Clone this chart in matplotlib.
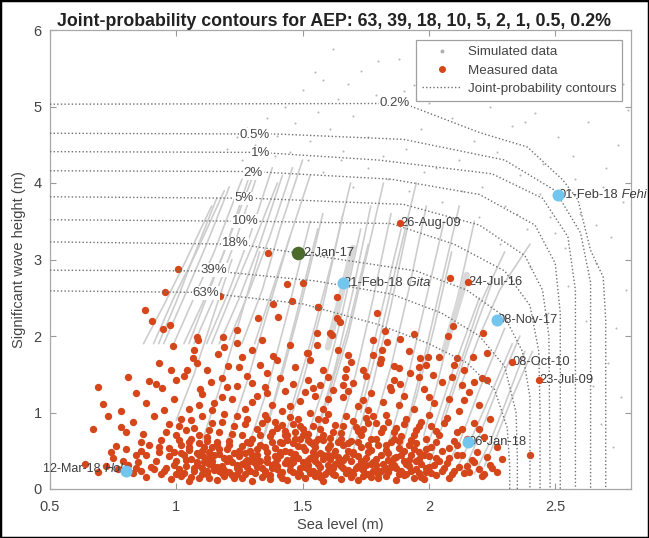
import matplotlib
matplotlib.use("Agg")
import matplotlib.pyplot as plt
from matplotlib.lines import Line2D
from matplotlib.patches import Rectangle

plt.rcParams['font.family'] = ['Liberation Sans', 'DejaVu Sans']

# ---------------- data ----------------
title = "Joint-probability contours for AEP: 63, 39, 18, 10, 5, 2, 1, 0.5, 0.2%"
xticks = [0.5, 1, 1.5, 2, 2.5]
xtick_labels = ["0.5", "1", "1.5", "2", "2.5"]
yticks = [0, 1, 2, 3, 4, 5, 6]

aep_labels = ["63%", "39%", "18%", "10%", "5%", "2%", "1%", "0.5%", "0.2%"]
aep_label_x = [1.118, 1.150, 1.233, 1.272, 1.268, 1.304, 1.332, 1.310, 1.865]
aep_label_y = [2.56, 2.86, 3.21, 3.50, 3.80, 4.13, 4.39, 4.63, 5.04]

contour_x = [
    [0.5, 1.1, 1.5, 1.8, 2.0, 2.15, 2.26, 2.31, 2.32, 2.32],
    [0.5, 1.15, 1.55, 1.85, 2.05, 2.2, 2.3, 2.345, 2.35, 2.35],
    [0.5, 1.25, 1.65, 1.95, 2.15, 2.3, 2.37, 2.40, 2.40],
    [0.5, 1.3, 1.85, 2.1, 2.3, 2.4, 2.435, 2.44, 2.44],
    [0.5, 1.3, 1.9, 2.2, 2.38, 2.45, 2.475, 2.48],
    [0.5, 1.3, 1.85, 2.2, 2.42, 2.50, 2.52, 2.52],
    [0.5, 1.33, 1.8, 2.25, 2.45, 2.55, 2.58, 2.58],
    [0.5, 1.4, 1.9, 2.3, 2.5, 2.6, 2.64, 2.64],
    [0.5, 1.9, 2.2, 2.39, 2.53, 2.59, 2.64, 2.69, 2.70, 2.70],
]
contour_y = [
    [2.59, 2.57, 2.42, 2.15, 1.9, 1.65, 1.3, 0.8, 0.3, 0.0],
    [2.86, 2.85, 2.72, 2.55, 2.3, 2.0, 1.6, 1.0, 0.4, 0.0],
    [3.23, 3.20, 3.00, 2.85, 2.6, 2.25, 1.8, 1.2, 0.0],
    [3.52, 3.50, 3.47, 3.2, 2.85, 2.4, 1.8, 1.0, 0.0],
    [3.82, 3.80, 3.72, 3.45, 3.05, 2.6, 2.0, 0.0],
    [4.16, 4.15, 4.05, 3.85, 3.45, 2.95, 2.3, 0.0],
    [4.41, 4.40, 4.30, 4.12, 3.8, 3.3, 2.6, 0.0],
    [4.65, 4.64, 4.57, 4.30, 3.9, 3.35, 2.7, 0.0],
    [5.03, 5.04, 4.66, 4.47, 4.04, 3.78, 3.12, 2.77, 2.2, 0.0],
]

# simulated-data streaks (each: x list, y list)
streak_x = [
    [0.87, 0.95, 1.04, 1.14], [0.91, 0.99, 1.08, 1.19], [0.95, 1.03, 1.12, 1.21],
    [0.99, 1.07, 1.15, 1.26], [1.03, 1.10, 1.19, 1.29], [1.07, 1.15, 1.24, 1.33],
    [1.12, 1.21, 1.29, 1.38], [1.17, 1.25, 1.33, 1.42], [1.21, 1.29, 1.37, 1.46],
    [1.26, 1.34, 1.41, 1.50], [1.31, 1.38, 1.46, 1.53], [0.93, 1.00, 1.07, 1.16],
    [1.05, 1.12, 1.20, 1.31], [1.14, 1.22, 1.31, 1.40],
    [1.20, 1.28, 1.36, 1.45], [1.28, 1.36, 1.44, 1.53], [1.35, 1.42, 1.50, 1.58],
    [1.42, 1.50, 1.58, 1.66], [1.50, 1.58, 1.65, 1.73], [1.56, 1.63, 1.70, 1.77],
    [1.63, 1.71, 1.78, 1.85], [1.70, 1.78, 1.85, 1.92], [1.77, 1.85, 1.92, 1.99],
    [1.84, 1.92, 1.99, 2.06], [1.91, 1.98, 2.05, 2.12], [1.98, 2.05, 2.12, 2.18],
    [1.10, 1.17, 1.25, 1.33], [1.00, 1.07, 1.14, 1.22], [1.45, 1.53, 1.61, 1.69],
    [1.60, 1.68, 1.75, 1.82], [1.73, 1.80, 1.87, 1.95], [1.32, 1.39, 1.47, 1.56],
    [1.53, 1.60, 1.68, 1.76], [1.67, 1.74, 1.81, 1.89], [1.88, 1.95, 2.02, 2.09],
    [2.05, 2.12, 2.20, 2.30], [2.10, 2.16, 2.24, 2.33], [2.14, 2.20, 2.27, 2.36],
    [2.18, 2.24, 2.30, 2.38], [2.22, 2.27, 2.33, 2.41], [2.00, 2.06, 2.15, 2.25],
    [2.05, 2.12, 2.20, 2.30], [2.12, 2.20, 2.28, 2.40], [1.95, 2.02, 2.10, 2.20],
]
streak_y = [
    [1.9, 2.4, 3.0, 3.7], [1.9, 2.5, 3.1, 3.9], [1.9, 2.5, 3.2, 3.95],
    [1.9, 2.5, 3.1, 4.05], [1.9, 2.4, 3.1, 4.1], [1.9, 2.5, 3.3, 4.2],
    [1.9, 2.6, 3.3, 4.2], [1.9, 2.5, 3.2, 4.1], [1.95, 2.6, 3.3, 4.2],
    [1.9, 2.6, 3.4, 4.3], [1.9, 2.6, 3.4, 4.1], [1.9, 2.45, 3.05, 3.8],
    [1.9, 2.5, 3.2, 4.15], [1.9, 2.55, 3.25, 4.0],
    [0.6, 1.4, 2.3, 3.3], [0.5, 1.3, 2.3, 3.5], [0.7, 1.5, 2.5, 3.6],
    [0.6, 1.4, 2.4, 3.6], [0.5, 1.3, 2.2, 3.4], [0.8, 1.6, 2.6, 3.7],
    [0.6, 1.5, 2.5, 3.6], [0.5, 1.4, 2.4, 3.5], [0.7, 1.6, 2.6, 3.7],
    [0.6, 1.5, 2.5, 3.5], [0.8, 1.7, 2.7, 3.7], [0.7, 1.6, 2.6, 3.5],
    [0.6, 1.3, 2.2, 3.1], [0.9, 1.5, 2.2, 3.0], [1.0, 1.9, 2.9, 4.0],
    [1.1, 2.0, 3.0, 4.0], [1.0, 1.9, 2.9, 4.0], [0.4, 1.2, 2.2, 3.4],
    [0.4, 1.2, 2.1, 3.2], [0.5, 1.3, 2.3, 3.4], [0.4, 1.2, 2.1, 3.1],
    [0.2, 0.6, 1.3, 2.1], [0.2, 0.6, 1.2, 1.9], [0.25, 0.7, 1.3, 2.0],
    [0.2, 0.6, 1.1, 1.8], [0.3, 0.7, 1.2, 1.8], [0.3, 0.9, 1.8, 2.7],
    [0.9, 1.6, 2.4, 3.1], [1.3, 2.0, 2.6, 3.2], [0.2, 0.8, 1.6, 2.5],
]
band_x = [[1.60, 1.70], [2.06, 2.15]]
band_y = [[1.85, 3.15], [1.80, 2.80]]

sim_dots = [
    (1.20, 4.45), (1.24, 4.60), (1.28, 4.72), (1.31, 4.50), (1.36, 4.85), (1.40, 4.62), (1.43, 5.00),
    (1.47, 4.78), (1.50, 5.22), (1.53, 4.55), (1.56, 4.93), (1.58, 5.35), (1.61, 4.70), (1.64, 5.10),
    (1.66, 4.42), (1.70, 4.88), (1.73, 5.46), (1.76, 4.60), (1.79, 5.15), (1.82, 4.35), (1.85, 4.98),
    (1.88, 5.62), (1.91, 4.45), (1.94, 5.28), (1.97, 4.70), (2.00, 5.05), (2.03, 4.20), (2.06, 5.48),
    (2.09, 4.85), (2.12, 4.30), (2.15, 5.20), (2.18, 4.55), (2.21, 3.95), (2.24, 5.00), (2.27, 4.40),
    (2.30, 3.70), (2.33, 4.75), (2.36, 4.10), (2.39, 3.40), (2.42, 4.92), (2.45, 4.25), (2.48, 3.55),
    (2.51, 4.60), (2.54, 3.15), (2.57, 4.35), (2.60, 3.60), (2.63, 4.80), (2.66, 2.95), (2.69, 3.95),
    (2.72, 3.30), (2.75, 4.50), (2.78, 2.60), (2.74, 2.10), (2.71, 1.65), (2.76, 1.20), (2.68, 0.85),
    (2.73, 0.55), (2.77, 3.75), (2.62, 2.20), (2.58, 1.70), (2.55, 2.65), (2.65, 1.35), (2.70, 4.20),
    (2.60, 5.10), (2.52, 5.30), (2.44, 5.55), (2.35, 5.25), (2.26, 5.70), (2.17, 5.40), (2.10, 5.85),
    (1.98, 5.50), (1.90, 5.20), (1.80, 5.60), (1.68, 5.30), (1.62, 5.75), (1.55, 5.45), (2.40, 2.90),
    (2.47, 2.30), (2.35, 3.60), (2.28, 3.20), (2.20, 3.55), (2.13, 3.90), (2.05, 3.75), (1.98, 4.15),
    (1.92, 3.90), (1.84, 4.05), (1.76, 4.20), (1.70, 3.95), (1.65, 4.30), (1.58, 4.15), (2.50, 3.35),
    (2.44, 3.85), (2.58, 4.05), (2.66, 3.45), (2.79, 4.95), (2.77, 5.30), (2.69, 5.50), (2.57, 5.75),
    (2.46, 5.10), (2.38, 4.80), (1.26, 4.30), (1.33, 4.22), (1.39, 4.35), (1.45, 4.40), (1.52, 4.30),
]

meas_upper = [
    (1.007, 2.88), (0.955, 2.58), (0.876, 2.34), (0.904, 2.20), (0.948, 2.09), (0.975, 2.14), (0.987, 1.87),
    (1.173, 2.52), (1.363, 3.09), (1.44, 2.68), (1.50, 2.69), (1.383, 2.42), (1.458, 2.46), (1.561, 2.38),
    (1.324, 2.24), (1.403, 2.25), (1.637, 2.51), (1.637, 2.24), (1.557, 2.04), (1.609, 2.04), (1.082, 1.99),
    (1.086, 1.95), (1.185, 1.99), (1.241, 2.08), (1.241, 1.91), (2.084, 2.76), (1.795, 2.30), (1.827, 2.07),
    (1.78, 1.95), (1.886, 1.96), (1.835, 1.92), (1.94, 2.03), (2.096, 2.13), (2.076, 2.00), (2.215, 2.04),
    (1.815, 1.82), (1.68, 1.75), (1.78, 1.75), (1.965, 1.71), (1.997, 1.73), (2.11, 1.71), (2.175, 1.73),
    (2.23, 1.78), (1.807, 1.65), (1.96, 1.60), (1.86, 1.61), (1.74, 1.56), (1.926, 1.52), (2.017, 1.49),
    (2.09, 1.46), (2.13, 1.36), (2.21, 1.45), (1.668, 1.46), (1.66, 1.36), (1.847, 1.33), (1.886, 1.37),
    (1.56, 2.38), (1.649, 2.18), (1.617, 2.01), (1.52, 1.78), (2.23, 1.42),
]
meas_mid = [
    (0.93, 1.65), (0.81, 1.46), (0.69, 1.33), (0.71, 1.11), (0.92, 1.37), (0.944, 1.32), (1.066, 1.71),
    (1.043, 1.56), (1.03, 1.48), (1.205, 1.61), (1.25, 1.60), (1.138, 1.40), (1.18, 1.45), (1.094, 1.31),
    (1.20, 1.33), (1.30, 1.38), (1.33, 1.62), (1.165, 1.76), (1.30, 1.82), (1.45, 1.88), (1.383, 1.74),
    (1.518, 1.78), (1.557, 1.88), (1.36, 1.52), (1.41, 1.45), (1.47, 1.60), (1.52, 1.43), (1.58, 1.55),
    (1.62, 1.30), (1.55, 1.22), (1.49, 1.15), (1.43, 1.28), (1.38, 1.10), (1.32, 1.21), (1.27, 1.05),
    (1.22, 1.17), (1.15, 1.12), (1.10, 1.24), (1.05, 1.05), (0.99, 1.18), (0.95, 1.03), (0.88, 1.12),
    (0.84, 1.25), (0.78, 1.02), (1.00, 1.42), (1.12, 1.55), (1.28, 1.48), (1.35, 1.33), (1.46, 1.37),
    (1.53, 1.68), (1.60, 1.46), (1.66, 1.20), (1.70, 1.38), (1.72, 1.08), (1.77, 1.25), (1.82, 1.14),
    (1.86, 1.43), (1.90, 1.22), (1.94, 1.05), (1.98, 1.31), (2.02, 1.12), (2.05, 1.40), (2.08, 1.18),
    (2.12, 1.02), (2.16, 1.27), (2.20, 1.10), (1.75, 1.48), (1.88, 1.58), (1.69, 1.66), (1.99, 1.62),
    (2.14, 1.55), (1.58, 1.05), (1.42, 1.02), (1.24, 1.35), (1.08, 1.65), (1.19, 1.85), (1.34, 1.95),
    (1.40, 1.68), (1.64, 1.82), (1.92, 1.80), (2.04, 1.72), (1.81, 1.70), (1.07, 1.82), (0.98, 1.55),
    (1.57, 1.36), (1.67, 1.57), (1.85, 1.30), (2.10, 1.62), (1.51, 1.27), (1.14, 1.03), (0.89, 1.41),
    (1.76, 1.03), (1.96, 1.47), (2.18, 1.40), (1.26, 1.72),
    (1.09, 1.10), (1.18, 1.20), (1.30, 1.14), (1.45, 1.08), (1.60, 1.18), (1.74, 1.16), (1.88, 1.10),
    (2.00, 1.20), (2.14, 1.16), (1.36, 1.25), (1.54, 1.32), (1.68, 1.28),
]
meas_low = [
    (0.67, 0.78), (0.78, 0.81), (0.80, 0.75), (0.83, 0.88), (0.87, 0.72), (0.91, 0.96), (0.94, 0.64),
    (0.97, 0.85), (1.00, 0.70), (1.02, 0.92), (1.05, 0.62), (1.07, 0.80), (1.10, 0.95), (1.12, 0.68),
    (1.14, 0.86), (1.17, 0.74), (1.19, 0.98), (1.21, 0.63), (1.23, 0.83), (1.26, 0.71), (1.28, 0.92),
    (1.30, 0.65), (1.32, 0.79), (1.35, 0.97), (1.37, 0.69), (1.39, 0.87), (1.41, 0.62), (1.43, 0.76),
    (1.45, 0.94), (1.47, 0.66), (1.49, 0.83), (1.51, 0.72), (1.53, 0.99), (1.55, 0.61), (1.57, 0.78),
    (1.59, 0.90), (1.61, 0.67), (1.63, 0.84), (1.65, 0.73), (1.67, 0.96), (1.69, 0.63), (1.71, 0.81),
    (1.73, 0.70), (1.75, 0.93), (1.77, 0.65), (1.79, 0.86), (1.81, 0.74), (1.83, 0.97), (1.85, 0.62),
    (1.87, 0.80), (1.89, 0.69), (1.91, 0.91), (1.93, 0.64), (1.95, 0.77), (1.97, 0.88), (1.99, 0.66),
    (2.01, 0.82), (2.04, 0.71), (2.07, 0.93), (2.10, 0.63), (2.13, 0.79), (2.18, 0.86), (2.22, 0.68),
    (0.73, 0.95), (0.86, 0.62), (1.04, 0.77), (1.16, 0.61), (1.24, 0.96), (1.34, 0.86), (1.44, 0.70),
    (1.54, 0.82), (1.64, 0.62), (1.74, 0.78), (1.84, 0.88), (1.94, 0.71), (2.00, 0.97), (1.60, 0.98),
    (1.38, 0.75), (1.18, 0.88), (0.96, 0.74), (1.48, 0.91), (1.70, 0.89), (1.88, 0.63), (1.52, 0.64),
    (1.29, 0.60), (1.09, 0.71), (1.78, 0.96), (2.15, 0.66), (1.42, 0.84), (1.62, 0.75),
    (1.01, 0.83), (1.06, 0.90), (1.13, 0.77), (1.22, 0.72), (1.27, 0.85), (1.33, 0.70), (1.36, 0.92),
    (1.40, 0.80), (1.46, 0.85), (1.50, 0.78), (1.56, 0.92), (1.58, 0.70), (1.66, 0.82), (1.72, 0.76),
    (1.76, 0.86), (1.82, 0.80), (1.86, 0.74), (1.90, 0.85), (1.96, 0.82), (2.03, 0.76), (2.06, 0.86),
    (2.11, 0.74), (2.20, 0.78), (2.24, 0.92),
]
meas_base = [
    (0.83, 0.21), (0.88, 0.16), (0.94, 0.19), (0.98, 0.13), (1.02, 0.17), (1.05, 0.11), (1.09, 0.15),
    (1.12, 0.20), (1.16, 0.12), (1.19, 0.17), (1.23, 0.14), (1.27, 0.19), (1.30, 0.11), (1.34, 0.16),
    (1.37, 0.13), (1.41, 0.18), (1.44, 0.12), (1.48, 0.21), (1.51, 0.14), (1.55, 0.17), (1.58, 0.11),
    (1.62, 0.19), (1.65, 0.13), (1.69, 0.16), (1.72, 0.12), (1.76, 0.20), (1.80, 0.14), (1.83, 0.17),
    (1.87, 0.12), (1.91, 0.19), (1.94, 0.15), (1.98, 0.13), (2.03, 0.18), (2.08, 0.15), (2.14, 0.21),
    (2.21, 0.17), (2.27, 0.22),
    (0.64, 0.33), (0.72, 0.30), (0.77, 0.26), (0.81, 0.31), (0.86, 0.24), (0.90, 0.29), (0.95, 0.23),
    (0.99, 0.32), (1.01, 0.26), (1.04, 0.30), (1.07, 0.23), (1.10, 0.28), (1.13, 0.33), (1.15, 0.25),
    (1.18, 0.30), (1.21, 0.22), (1.24, 0.27), (1.26, 0.33), (1.29, 0.24), (1.32, 0.29), (1.35, 0.23),
    (1.38, 0.31), (1.40, 0.26), (1.43, 0.34), (1.46, 0.22), (1.49, 0.28), (1.52, 0.32), (1.54, 0.24),
    (1.57, 0.29), (1.60, 0.23), (1.63, 0.33), (1.66, 0.27), (1.69, 0.22), (1.72, 0.30), (1.74, 0.25),
    (1.77, 0.33), (1.80, 0.23), (1.83, 0.28), (1.86, 0.32), (1.89, 0.24), (1.92, 0.30), (1.95, 0.26),
    (1.99, 0.22), (2.02, 0.31), (2.06, 0.27), (2.10, 0.24), (2.15, 0.30), (2.20, 0.26), (2.24, 0.32),
    (1.12, 0.24), (1.31, 0.34), (1.56, 0.21), (1.79, 0.31), (1.97, 0.33),
    (0.75, 0.40), (0.84, 0.44), (0.92, 0.37), (0.97, 0.43), (1.00, 0.36), (1.03, 0.45), (1.06, 0.39),
    (1.08, 0.35), (1.11, 0.42), (1.14, 0.37), (1.17, 0.46), (1.19, 0.40), (1.22, 0.35), (1.25, 0.43),
    (1.28, 0.38), (1.30, 0.45), (1.33, 0.36), (1.36, 0.41), (1.39, 0.34), (1.41, 0.44), (1.44, 0.38),
    (1.47, 0.46), (1.50, 0.35), (1.53, 0.41), (1.55, 0.37), (1.58, 0.44), (1.61, 0.39), (1.64, 0.35),
    (1.67, 0.42), (1.70, 0.46), (1.73, 0.37), (1.75, 0.41), (1.78, 0.35), (1.81, 0.44), (1.84, 0.38),
    (1.87, 0.42), (1.90, 0.36), (1.93, 0.45), (1.96, 0.39), (2.00, 0.43), (2.04, 0.36), (2.08, 0.41),
    (2.13, 0.45), (2.17, 0.38), (2.23, 0.42), (2.29, 0.39), (1.09, 0.45), (1.27, 0.35), (1.46, 0.40),
    (1.62, 0.45), (1.85, 0.35),
    (0.76, 0.56), (0.86, 0.50), (0.93, 0.55), (0.99, 0.48), (1.02, 0.58), (1.05, 0.51), (1.08, 0.47),
    (1.11, 0.55), (1.13, 0.49), (1.16, 0.59), (1.20, 0.52), (1.23, 0.47), (1.26, 0.56), (1.29, 0.50),
    (1.33, 0.58), (1.36, 0.48), (1.39, 0.54), (1.42, 0.60), (1.45, 0.49), (1.48, 0.56), (1.51, 0.51),
    (1.54, 0.59), (1.57, 0.47), (1.60, 0.54), (1.63, 0.50), (1.66, 0.57), (1.70, 0.48), (1.73, 0.55),
    (1.77, 0.51), (1.80, 0.58), (1.84, 0.47), (1.88, 0.53), (1.92, 0.57), (1.96, 0.49), (2.01, 0.55),
    (2.05, 0.50), (2.11, 0.57), (2.19, 0.49), (2.27, 0.55), (2.40, 0.44), (1.44, 0.64), (1.50, 0.70),
    (1.56, 0.66), (1.47, 0.75), (1.53, 0.62), (1.06, 0.66), (1.12, 0.63), (1.01, 0.64),
    (1.03, 0.21), (1.07, 0.27), (1.10, 0.19), (1.14, 0.31), (1.17, 0.23), (1.20, 0.36), (1.24, 0.20),
    (1.28, 0.29), (1.31, 0.41), (1.35, 0.19), (1.38, 0.27), (1.42, 0.22), (1.45, 0.31), (1.48, 0.17),
    (1.52, 0.26), (1.55, 0.43), (1.59, 0.20), (1.62, 0.28), (1.66, 0.38), (1.70, 0.19), (1.73, 0.27),
    (1.77, 0.16), (1.81, 0.24), (1.85, 0.29), (1.88, 0.20), (1.92, 0.38), (1.96, 0.21), (1.99, 0.27),
    (1.13, 0.40), (1.40, 0.39), (1.68, 0.25), (1.25, 0.25), (1.52, 0.38), (1.18, 0.21), (1.60, 0.31),
    (0.96, 0.28), (1.00, 0.20), (1.04, 0.38), (1.06, 0.16), (1.08, 0.31), (1.11, 0.35), (1.13, 0.15),
    (1.15, 0.44), (1.16, 0.29), (1.19, 0.25), (1.21, 0.40), (1.22, 0.18), (1.24, 0.32), (1.26, 0.15),
    (1.27, 0.47), (1.29, 0.36), (1.31, 0.21), (1.32, 0.52), (1.34, 0.27), (1.36, 0.35), (1.37, 0.18),
    (1.39, 0.43), (1.40, 0.30), (1.42, 0.14), (1.43, 0.50), (1.45, 0.25), (1.46, 0.35), (1.48, 0.41),
    (1.49, 0.19), (1.50, 0.55), (1.51, 0.29), (1.53, 0.21), (1.54, 0.48), (1.56, 0.33), (1.57, 0.16),
    (1.58, 0.39), (1.60, 0.45), (1.61, 0.25), (1.63, 0.18), (1.64, 0.42), (1.65, 0.30), (1.67, 0.21),
    (1.68, 0.50), (1.69, 0.36), (1.71, 0.27), (1.72, 0.43), (1.74, 0.17), (1.75, 0.32), (1.76, 0.48),
    (1.78, 0.24), (1.79, 0.39), (1.80, 0.19), (1.82, 0.33), (1.83, 0.51), (1.84, 0.22), (1.86, 0.40),
    (1.87, 0.27), (1.89, 0.45), (1.90, 0.18), (1.91, 0.33), (1.93, 0.24), (1.94, 0.52), (1.95, 0.37),
    (1.97, 0.16), (1.98, 0.44), (2.00, 0.29), (2.01, 0.21), (2.03, 0.40), (2.05, 0.23), (2.07, 0.34),
    (2.09, 0.19), (2.11, 0.45), (2.12, 0.29), (2.16, 0.22), (2.18, 0.35), (2.22, 0.20), (2.25, 0.28),
    (1.02, 0.47), (1.05, 0.55), (1.09, 0.60), (1.10, 0.50), (1.14, 0.55), (1.17, 0.52), (1.21, 0.58),
    (1.25, 0.50), (1.28, 0.62), (1.32, 0.45), (1.35, 0.55), (1.38, 0.62), (1.41, 0.48), (1.43, 0.70),
    (1.46, 0.60), (1.49, 0.66), (1.52, 0.72), (1.55, 0.55), (1.58, 0.64), (1.61, 0.58), (1.65, 0.66),
    (1.68, 0.60), (1.72, 0.62), (1.76, 0.57), (1.79, 0.66), (1.83, 0.58), (1.86, 0.66), (1.90, 0.50),
    (1.95, 0.60), (1.99, 0.52), (2.03, 0.62), (2.08, 0.53),
    (0.69, 0.22), (0.79, 0.36), (0.85, 0.35), (0.88, 0.45), (0.91, 0.26), (0.93, 0.48), (0.97, 0.54),
    (0.80, 0.52), (0.74, 0.48), (0.89, 0.58), (0.84, 0.28),
]

event_dates = ["12-Mar-18", "06-Jan-18", "08-Nov-17", "01-Feb-18", "21-Feb-18", "2-Jan-17",
               "26-Aug-09", "24-Jul-16", "08-Oct-10", "23-Jul-09"]
event_storm = ["Hola", "", "", "Fehi", "Gita", "", "", "", "", ""]
event_x = [0.80, 2.155, 2.27, 2.51, 1.66, 1.48, 1.886, 2.155, 2.33, 2.437]
event_y = [0.235, 0.61, 2.21, 3.84, 2.69, 3.08, 3.48, 2.70, 1.66, 1.42]
event_kind = ["blue", "blue", "blue", "blue", "blue", "green", "red", "red", "red", "red"]

# ---------------- plotting ----------------
RED = '#d5461b'
BLUE = '#72c6ee'
GREEN = '#4b6b2b'
SIMC = '#cdcdcd'
CONC = '#707070'
TXT = '#3c3c3c'
kind_color = {"blue": BLUE, "green": GREEN, "red": RED}
kind_size = {"blue": 75, "green": 95, "red": 28}
EFS = 9.3

fig = plt.figure(figsize=(6.49, 5.38), dpi=100)
ax = fig.add_axes([50 / 649, 49 / 538, 581 / 649, 459 / 538])

for sx, sy in zip(streak_x, streak_y):
    ax.plot(sx, sy, color=SIMC, lw=1.2, zorder=1, solid_capstyle='round')
for bx, by in zip(band_x, band_y):
    ax.plot(bx, by, color='#d9d9d9', lw=4.5, zorder=1, solid_capstyle='round')
ax.scatter([p[0] for p in sim_dots], [p[1] for p in sim_dots], s=2.2, color='#b8b8b8',
           linewidths=0, zorder=1)

meas = meas_upper + meas_mid + meas_low + meas_base
ax.scatter([p[0] for p in meas], [p[1] for p in meas], s=28, color=RED, linewidths=0, zorder=2)

for cx, cy in zip(contour_x, contour_y):
    ax.plot(cx, cy, color=CONC, lw=1.0, ls=(0, (1, 1.6)), zorder=3)
for lab, lx, ly in zip(aep_labels, aep_label_x, aep_label_y):
    ax.text(lx, ly, lab, ha='center', va='center', fontsize=9.5, color='#4a4a4a', zorder=11,
            bbox=dict(facecolor='white', edgecolor='none', pad=0.6))

ax.set_xlim(0.5, 2.8)
ax.set_ylim(0, 6)
ax.set_xticks(xticks)
ax.set_xticklabels(xtick_labels)
ax.set_yticks(yticks)
ax.tick_params(direction='in', top=True, right=True, length=4, color='#9a9a9a',
               labelcolor='#444444', labelsize=10.5)
ax.tick_params(axis='x', pad=8)
ax.tick_params(axis='y', pad=6)
for sp in ax.spines.values():
    sp.set_color('#a8a8a8')
    sp.set_linewidth(0.9)
ax.set_xlabel("Sea level (m)", fontsize=10.5, color='#444444', labelpad=3)
ax.set_ylabel("Significant wave height (m)", fontsize=10.5, color='#444444', labelpad=5)
ax.set_title(title, fontsize=12.8, fontweight='bold', color='#222222', pad=3, x=0.489)

fig.canvas.draw()
renderer = fig.canvas.get_renderer()
for date, storm, ex, ey, kind in zip(event_dates, event_storm, event_x, event_y, event_kind):
    ax.scatter([ex], [ey], s=kind_size[kind], color=kind_color[kind], linewidths=0, zorder=6)
    if date.startswith("12-Mar"):
        t_it = ax.annotate(storm, (ex, ey), xytext=(3, 1.5), textcoords='offset points',
                           ha='right', va='center', fontsize=9, style='italic', color=TXT, zorder=5)
        w = t_it.get_window_extent(renderer).width * 72 / fig.dpi
        ax.annotate(date + " ", (ex, ey), xytext=(3 - w, 1.5), textcoords='offset points',
                    ha='right', va='center', fontsize=9, color=TXT, zorder=5)
    else:
        dx = 4.5 if kind == 'green' else 0.2
        t1 = ax.annotate(date, (ex, ey), xytext=(dx, 0), textcoords='offset points',
                         ha='left', va='center', fontsize=EFS, color=TXT, zorder=5,
                         annotation_clip=False)
        if storm:
            w = t1.get_window_extent(renderer).width * 72 / fig.dpi
            ax.annotate(" " + storm, (ex, ey), xytext=(dx + w, 0), textcoords='offset points',
                        ha='left', va='center', fontsize=EFS, style='italic', color=TXT,
                        zorder=5, annotation_clip=False)

handles = [
    Line2D([], [], ls='none', marker='o', ms=1.8, color='#b0b0b0'),
    Line2D([], [], ls='none', marker='o', ms=4, color=RED),
    Line2D([], [], color=CONC, lw=1.0, ls=(0, (1, 1.6))),
]
leg = ax.legend(handles, ["Simulated data", "Measured data", "Joint-probability contours"],
                loc='upper right', bbox_to_anchor=(0.985, 0.978), borderaxespad=0,
                fontsize=9.6, frameon=True, fancybox=False, edgecolor='#a0a0a0',
                framealpha=1, handlelength=2.9, handletextpad=0.5, labelspacing=0.45,
                borderpad=0.45)
leg.get_frame().set_linewidth(0.9)
for t in leg.get_texts():
    t.set_color('#444444')
leg.set_zorder(10)

fig.patches.append(Rectangle((0, 0), 1, 1, transform=fig.transFigure, fill=False,
                             edgecolor='black', linewidth=2.5, zorder=100))

fig.savefig("out.png", dpi=100)
